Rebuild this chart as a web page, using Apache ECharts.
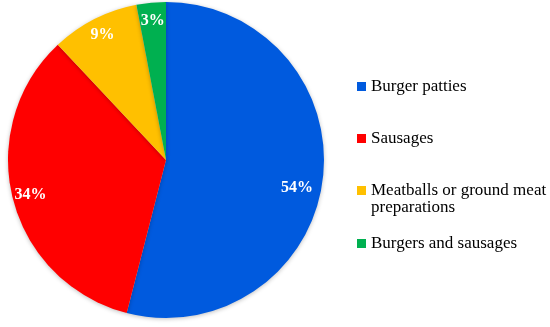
<!DOCTYPE html>
<html>
<head>
<meta charset="utf-8">
<script src="https://cdn.jsdelivr.net/npm/echarts@6/dist/echarts.min.js"></script>
<style>
  html, body { margin: 0; padding: 0; background: #fff; }
  #chart { width: 550px; height: 327px; }
</style>
</head>
<body>
<div id="chart"></div>
<script>
// shares of product types (percent)
var categories = ['Burger patties', 'Sausages', 'Meatballs or ground meat preparations', 'Burgers and sausages'];
var shares = [54, 34, 9, 3];
var colors = ['#005ADE', '#FF0000', '#FFC000', '#00B050'];

var FONT = 'Liberation Serif';
var CX = 166, CY = 160, R = 158;

var chart = echarts.init(document.getElementById('chart'));

var data = categories.map(function (name, i) {
    return { name: name, value: shares[i], itemStyle: { color: colors[i] } };
});

// one small legend per item so they sit at the same spots as the picture
var legendTops = [78, 130, 182, 235];
var legends = categories.map(function (name, i) {
    return {
        orient: 'vertical',
        left: 357,
        top: legendTops[i],
        padding: 0,
        data: [name],
        icon: 'rect',
        itemWidth: 9,
        itemHeight: 9,
        selectedMode: false,
        formatter: function (n) {
            return n === categories[2] ? 'Meatballs or ground meat' : n;
        },
        textStyle: { fontFamily: FONT, fontSize: 17, color: '#000' }
    };
});

var option = {
    animation: false,
    legend: legends,
    graphic: [{
        type: 'text',
        left: 371,
        top: 199,
        style: { text: 'preparations', font: '17px "' + FONT + '"', fill: '#000' }
    }],
    series: [
        {
            type: 'pie',
            center: [CX, CY],
            radius: [0, R],
            startAngle: 90,
            clockwise: true,
            label: { show: false },
            labelLine: { show: false },
            emphasis: { disabled: true },
            itemStyle: { shadowBlur: 4, shadowColor: 'rgba(0,0,0,0.25)', shadowOffsetY: 1 },
            data: data
        },
        {
            // transparent ring only used to place the percent labels near the rim
            type: 'pie',
            center: [CX, CY],
            radius: [116, R],
            startAngle: 90,
            clockwise: true,
            silent: true,
            legendHoverLink: false,
            itemStyle: { color: 'rgba(0,0,0,0)' },
            label: {
                show: true,
                position: 'inside',
                formatter: '{c}%',
                color: '#fff',
                fontFamily: FONT,
                fontSize: 16,
                fontWeight: 'bold'
            },
            labelLine: { show: false },
            emphasis: { disabled: true },
            data: categories.map(function (name, i) {
                var item = { name: name + ' ', value: shares[i] };
                if (i === 0) item.label = { offset: [-8, 10] };
                return item;
            })
        }
    ]
};

chart.setOption(option);
</script>
</body>
</html>
